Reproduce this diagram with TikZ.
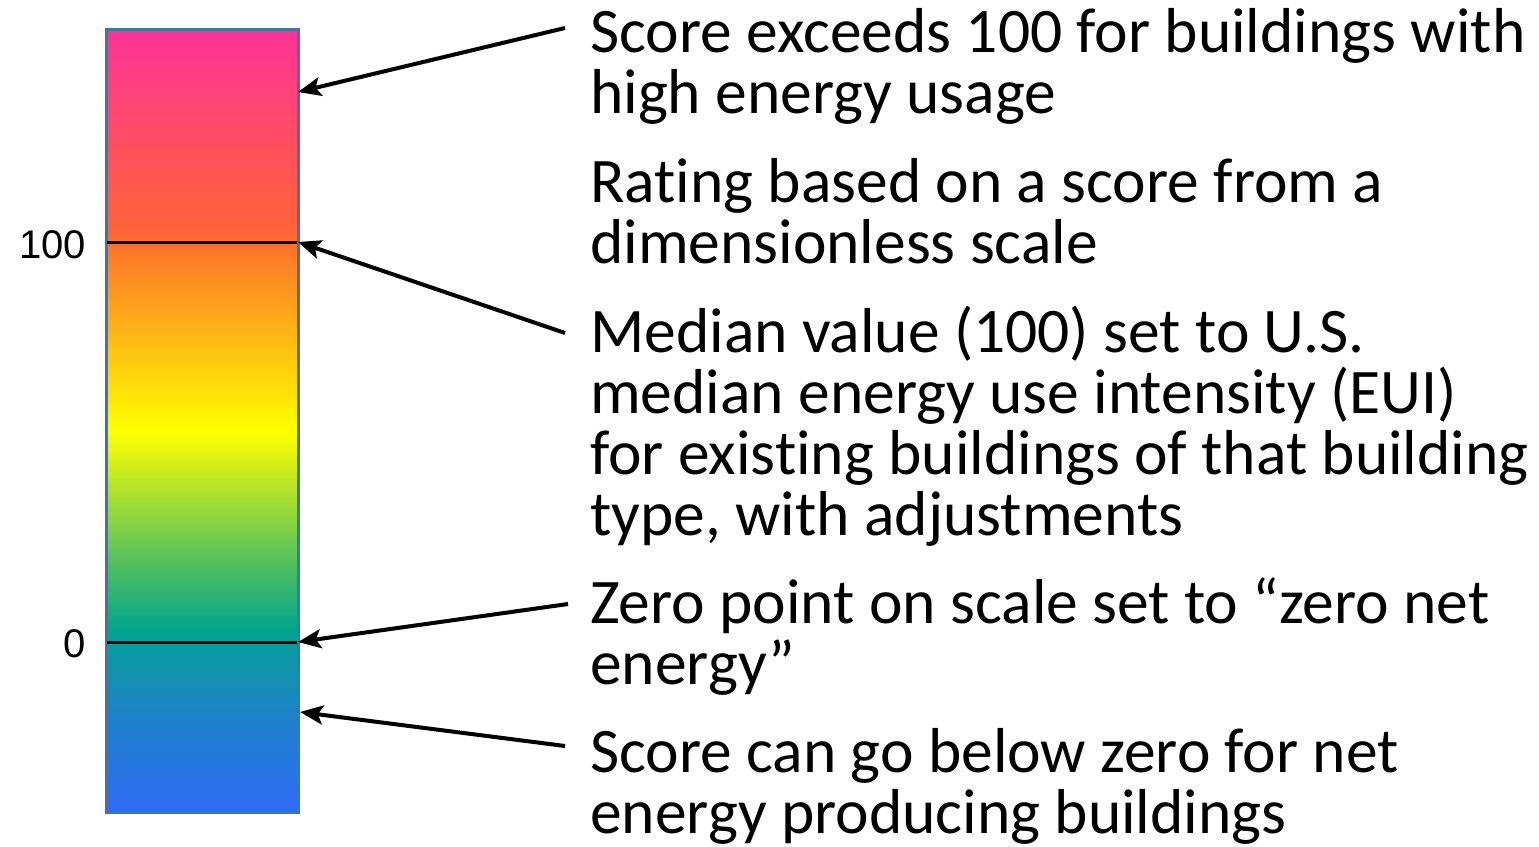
\documentclass[tikz,border=0pt]{standalone}
\usepackage{fontspec}
\setmainfont{Carlito}[Ligatures=NoCommon]
\newfontfamily\arialfont{Liberation Sans}
\usetikzlibrary{arrows.meta}
\definecolor{cblue}{RGB}{46,107,245}
\definecolor{cblueb}{RGB}{30,128,205}
\definecolor{cteal}{RGB}{10,155,160}
\definecolor{cteala}{RGB}{0,165,140}
\definecolor{cgreen}{RGB}{90,195,90}
\definecolor{cyellow}{RGB}{255,255,0}
\definecolor{corange}{RGB}{255,120,40}
\definecolor{cred}{RGB}{255,100,55}
\definecolor{cpink}{RGB}{255,50,150}
\definecolor{barborder}{RGB}{70,115,165}
\pgfdeclareverticalshading{scorebar}{100bp}{color(0bp)=(cblue); color(25bp)=(cblue); color(30.81bp)=(cblueb); color(35.6bp)=(cteal); color(36.56bp)=(cteala); color(41.35bp)=(cgreen); color(49.33bp)=(cyellow); color(60.83bp)=(corange); color(62.1bp)=(cred); color(75bp)=(cpink); color(100bp)=(cpink)}
\tikzset{
  desc/.style={anchor=base west, align=left, inner sep=0pt, font=\fontsize{63.5}{61}\selectfont},
  ticklabel/.style={anchor=base east, inner sep=0pt, font=\arialfont\fontsize{40}{48}\selectfont},
  pointer/.style={line width=4pt, -{Stealth[length=23pt,width=19pt,inset=5pt]}},
  level/.style={line width=3pt, black}
}
\begin{document}
\begin{tikzpicture}[x=1pt,y=-1pt]
\useasboundingbox (0,0) rectangle (1539,846);
\node[draw=barborder, line width=2.5pt, shading=scorebar, minimum width=192pt, minimum height=783pt, inner sep=0pt, anchor=north west] (bar) at (105,28) {};
\coordinate (l100a) at (107,242);
\coordinate (l100b) at (297,242);
\coordinate (l0a) at (107,642);
\coordinate (l0b) at (297,642);
\draw[level] (l100a) -- (l100b);
\draw[level] (l0a) -- (l0b);
\node[ticklabel] (t100) at (86,258) {100};
\node[ticklabel] (t0) at (86,657) {0};
% base anchor of a multi-line node = baseline of its last line
\node[desc] (d1) at (590,113) {Score exceeds 100 for buildings with\\high energy usage};
\node[desc] (d2) at (590,263) {Rating based on a score from a\\dimensionless scale};
\node[desc] (d3) at (590,535) {Median value (100) set to U.S.\\median energy use intensity (EUI)\\for existing buildings of that building\\type, with adjustments};
\node[desc] (d4) at (590,684) {Zero point on scale set to “zero net\\energy”};
\node[desc] (d5) at (590,833) {Score can go below zero for net\\energy producing buildings};
\coordinate (s1) at (565,28);
\coordinate (e1) at (298,92);
\coordinate (s2) at (565,333);
\coordinate (e2) at (298,242);
\coordinate (s3) at (568,604);
\coordinate (e3) at (298,642);
\coordinate (s4) at (565,746);
\coordinate (e4) at (300,712);
\draw[pointer] (s1) -- (e1);
\draw[pointer] (s2) -- (e2);
\draw[pointer] (s3) -- (e3);
\draw[pointer] (s4) -- (e4);
\end{tikzpicture}
\end{document}
